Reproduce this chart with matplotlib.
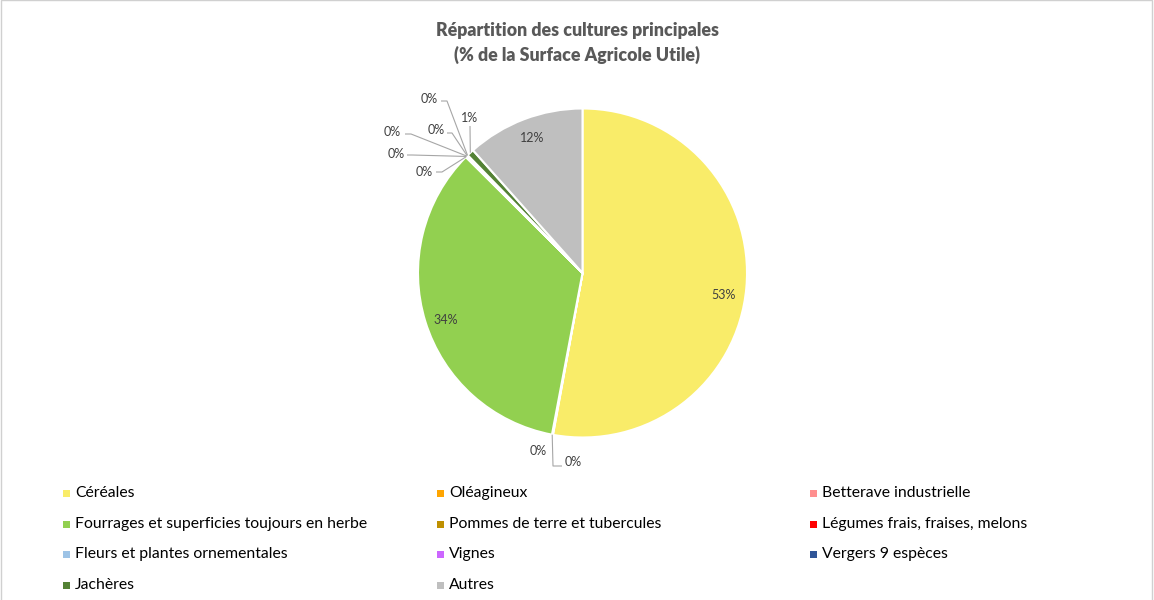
import matplotlib
matplotlib.use("Agg")
import matplotlib.pyplot as plt
from matplotlib.patches import Rectangle
import numpy as np

# ---- data ----
categories = ["Céréales", "Oléagineux", "Betterave industrielle",
              "Fourrages et superficies toujours en herbe",
              "Pommes de terre et tubercules", "Légumes frais, fraises, melons",
              "Fleurs et plantes ornementales", "Vignes", "Vergers 9 espèces",
              "Jachères", "Autres"]
values = [52.9, 0.05, 0.05, 34.5, 0.05, 0.05, 0.05, 0.05, 0.05, 0.7, 11.6]
colors = ["#F9EC69", "#FFA500", "#FF8F8F", "#92D050", "#BF9000", "#FF0000",
          "#9DC3E6", "#CC66FF", "#2F5597", "#548235", "#BFBFBF"]
title = "Répartition des cultures principales\n(% de la Surface Agricole Utile)"

W, H = 1154, 600
fig = plt.figure(figsize=(W / 100, H / 100), dpi=100)
fig.patch.set_facecolor("white")

FONT = ["Lato", "DejaVu Sans"]
TXT = "#404040"

# pie geometry (pixels)
CX, CY, R = 582.5, 273.0, 164.5
half = 230
ax = fig.add_axes([(CX - half) / W, (H - CY - half) / H, 2 * half / W, 2 * half / H])

def px(x, y):
    return ((x - CX) / R, (CY - y) / R)

wedges, _ = ax.pie(values, colors=colors, startangle=90, counterclock=False,
                   wedgeprops=dict(edgecolor="white", linewidth=1.5), radius=1.0)
ax.set_xlim(-half / R, half / R)
ax.set_ylim(-half / R, half / R)
ax.set_aspect("equal")
ax.axis("off")

total = sum(values)
pcts = [f"{round(v / total * 100):.0f}%" for v in values]

# label layout: (text center px, leader start px, elbow px)
layout = {
    0: ((724, 295), None, None),
    1: ((538, 451), None, None),
    2: ((573, 462), (562, 466), (553, 466)),
    3: ((446, 320), None, None),
    4: ((424, 172), (436, 172), (442, 172)),
    5: ((396, 154), (407, 155), (412, 155)),
    6: ((392, 132), (405, 134), (411, 134)),
    7: ((436, 130), (447, 133), (452, 133)),
    8: ((429, 99), (441, 101), (447, 101)),
    9: ((470, 118), (470, 126), None),
    10: ((532, 138), None, None),
}

for i, w in enumerate(wedges):
    (tx, ty), start, elbow = layout[i]
    x, y = px(tx, ty)
    ax.text(x, y, pcts[i], ha="center", va="center", fontsize=9,
            color=TXT, family=FONT)
    if start is not None:
        mid = np.deg2rad((w.theta1 + w.theta2) / 2)
        ex, ey = np.cos(mid), np.sin(mid)
        pts = [px(*start)]
        if elbow is not None:
            pts.append(px(*elbow))
        pts.append((ex, ey))
        xs, ys = zip(*pts)
        ax.plot(xs, ys, color="#A6A6A6", lw=0.8, solid_capstyle="butt")

# title
fig.text(577 / W, 1 - 43 / H, title, ha="center", va="center", fontsize=12.8,
         fontweight="heavy", color="#595959", family=FONT, linespacing=1.45)

# legend (manual grid, row-major)
col_x = [63, 437, 810]
row_y = [493, 524, 554, 585]
for i, (name, c) in enumerate(zip(categories, colors)):
    r, k = divmod(i, 3)
    x0, y0 = col_x[k], row_y[r]
    fig.patches.append(Rectangle((x0 / W, 1 - (y0 + 3.5) / H), 7 / W, 7 / H,
                                 transform=fig.transFigure, facecolor=c,
                                 edgecolor="none"))
    fig.text((x0 + 12) / W, 1 - y0 / H, name, ha="left", va="center",
             fontsize=11.3, color="#000000", family=FONT)

# outer frame
fig.patches.append(Rectangle((0.5 / W, -0.1), (W - 2.5) / W, 1.1 - 0.5 / H,
                             transform=fig.transFigure, facecolor="none",
                             edgecolor="#D0D0D0", linewidth=1.0))

fig.savefig("out.png", dpi=100)
